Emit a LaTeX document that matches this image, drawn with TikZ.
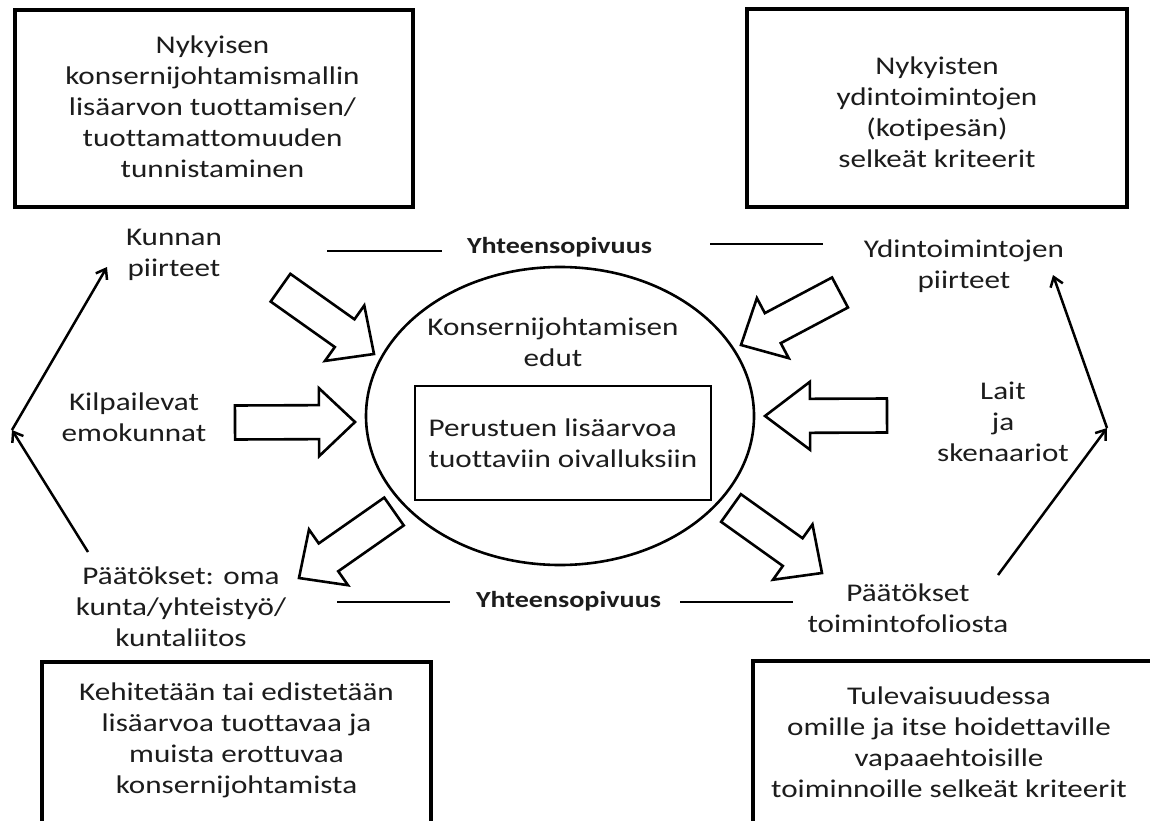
\documentclass[tikz,border=0pt]{standalone}
\usepackage{fontspec}
\setmainfont{Carlito}[FakeStretch=1.22, Ligatures=CommonOff]
\usetikzlibrary{calc,arrows.meta,shapes.geometric}

\definecolor{ink}{HTML}{1C1C1C}

% hollow block arrow from a tail point to a tip point
% #1 = head length, #2 = tail, #3 = tip
\newcommand\blockarrow[3][36pt]{%
  \coordinate (hb) at ($(#3)!#1!(#2)$);
  \draw[blockline] ($(#2)!17pt!90:(#3)$) -- ($(hb)!17pt!90:(#3)$)
    -- ($(hb)!34pt!90:(#3)$) -- (#3) -- ($(hb)!34pt!-90:(#3)$)
    -- ($(hb)!17pt!-90:(#3)$) -- ($(#2)!17pt!-90:(#3)$) -- cycle;}

\begin{document}
\begin{tikzpicture}[x=1pt,y=-1pt,
  txt/.style={font=\fontsize{25.5}{31}\selectfont, text=ink, align=center, inner sep=0pt},
  bold/.style={font=\fontsize{23}{28}\selectfont\bfseries, text=ink, inner sep=0pt},
  frame/.style={draw=black, line width=3.2pt, inner sep=0pt},
  innerbox/.style={draw=black, line width=2.6pt, inner sep=0pt},
  blockline/.style={draw=black, line width=2.6pt, line join=miter, fill=white},
  rule/.style={draw=black, line width=2.8pt},
  flow/.style={draw=black, line width=2.5pt, -{Straight Barb[length=9pt, width=13pt, line width=2.5pt]}}
]
\useasboundingbox (0,0) rectangle (1150,821);
\fill[white] (0,0) rectangle (1150,821);
\clip (0,0) rectangle (1150,821);

% corner boxes
\node[frame, minimum width=398pt, minimum height=197pt] (tlbox) at (214,108.5) {};
\node[frame, minimum width=380pt, minimum height=198pt] (trbox) at (937,108) {};
\node[frame, minimum width=389pt, minimum height=180pt] (blbox) at (236.5,752) {};
\node[frame, minimum width=412pt, minimum height=180pt] (brbox) at (959,751) {};

\node[txt] (tltext) at (212.5,107) {Nykyisen\\konsernijohtamismallin\\lisäarvon tuottamisen/\\tuottamattomuuden\\tunnistaminen};
\node[txt] (trtext) at (937,112) {Nykyisten\\ydintoimintojen\\(kotipesän)\\selkeät kriteerit};
\node[txt] (bltext) at (236.5,740) {Kehitetään tai edistetään\\lisäarvoa tuottavaa ja\\muista erottuvaa\\konsernijohtamista};
\node[txt] (brtext) at (949,742) {Tulevaisuudessa\\omille ja itse hoidettaville\\vapaaehtoisille\\toiminnoille selkeät kriteerit};

% central ellipse and core box
\node[draw=black, line width=2.6pt, ellipse, minimum width=388pt, minimum height=298pt, inner sep=0pt] (core) at (560,416) {};
\node[txt] (benefit) at (553,342.5) {Konsernijohtamisen\\edut};
\node[innerbox, txt, align=left, minimum width=296pt, minimum height=114pt] (insight) at (563,443) {Perustuen lisäarvoa\\tuottaviin oivalluksiin};

% side labels
\node[txt] (kunta) at (174,255) {Kunnan\\piirteet};
\node[txt] (kilpa) at (134,417) {Kilpailevat\\emokunnat};
\node[txt] (paatL) at (181,607) {Päätökset: oma\\kunta/yhteistyö/\\kuntaliitos};
\node[txt] (ydin) at (964,266) {Ydintoimintojen\\piirteet};
\node[txt] (lait) at (1003,422) {Lait\\ja\\skenaariot};
\node[txt] (paatR) at (908,608) {Päätökset\\toimintofoliosta};

% compatibility rules
\node[bold] (fitTop) at (559.5,247) {Yhteensopivuus};
\node[bold] (fitBot) at (568.5,601) {Yhteensopivuus};
\coordinate (ftL1) at (327,251); \coordinate (ftL2) at (442,251);
\coordinate (ftR1) at (710,244); \coordinate (ftR2) at (823,244);
\coordinate (fbL1) at (337,602); \coordinate (fbL2) at (450,602);
\coordinate (fbR1) at (680,602); \coordinate (fbR2) at (793,602);
\draw[rule] (ftL1) -- (ftL2);
\draw[rule] (ftR1) -- (ftR2);
\draw[rule] (fbL1) -- (fbL2);
\draw[rule] (fbR1) -- (fbR2);

% block arrows into and out of the ellipse
\coordinate (ulT) at (280.5,287.7); \coordinate (ulH) at (374,354);
\coordinate (mlT) at (235,422.5);   \coordinate (mlH) at (355,422);
\coordinate (llT) at (394,511.5);   \coordinate (llH) at (299,578);
\coordinate (urT) at (840,292.5);   \coordinate (urH) at (741,345);
\coordinate (mrT) at (887,415.5);   \coordinate (mrH) at (765,416);
\coordinate (lrT) at (731,508);     \coordinate (lrH) at (822,573);
\blockarrow{ulT}{ulH}
\blockarrow{mlT}{mlH}
\blockarrow{llT}{llH}
\blockarrow{urT}{urH}
\blockarrow[45pt]{mrT}{mrH}
\blockarrow{lrT}{lrH}

% feedback loops on both sides
\coordinate (lStart) at (88,552);  \coordinate (lTurn) at (12,430);  \coordinate (lEnd) at (107,267);
\coordinate (rStart) at (998,575); \coordinate (rTurn) at (1107,428); \coordinate (rEnd) at (1053,275);
\draw[flow] (lStart) -- (lTurn);
\draw[flow] (lTurn) -- (lEnd);
\draw[flow] (rStart) -- (rTurn);
\draw[flow] (rTurn) -- (rEnd);
\end{tikzpicture}
\end{document}
